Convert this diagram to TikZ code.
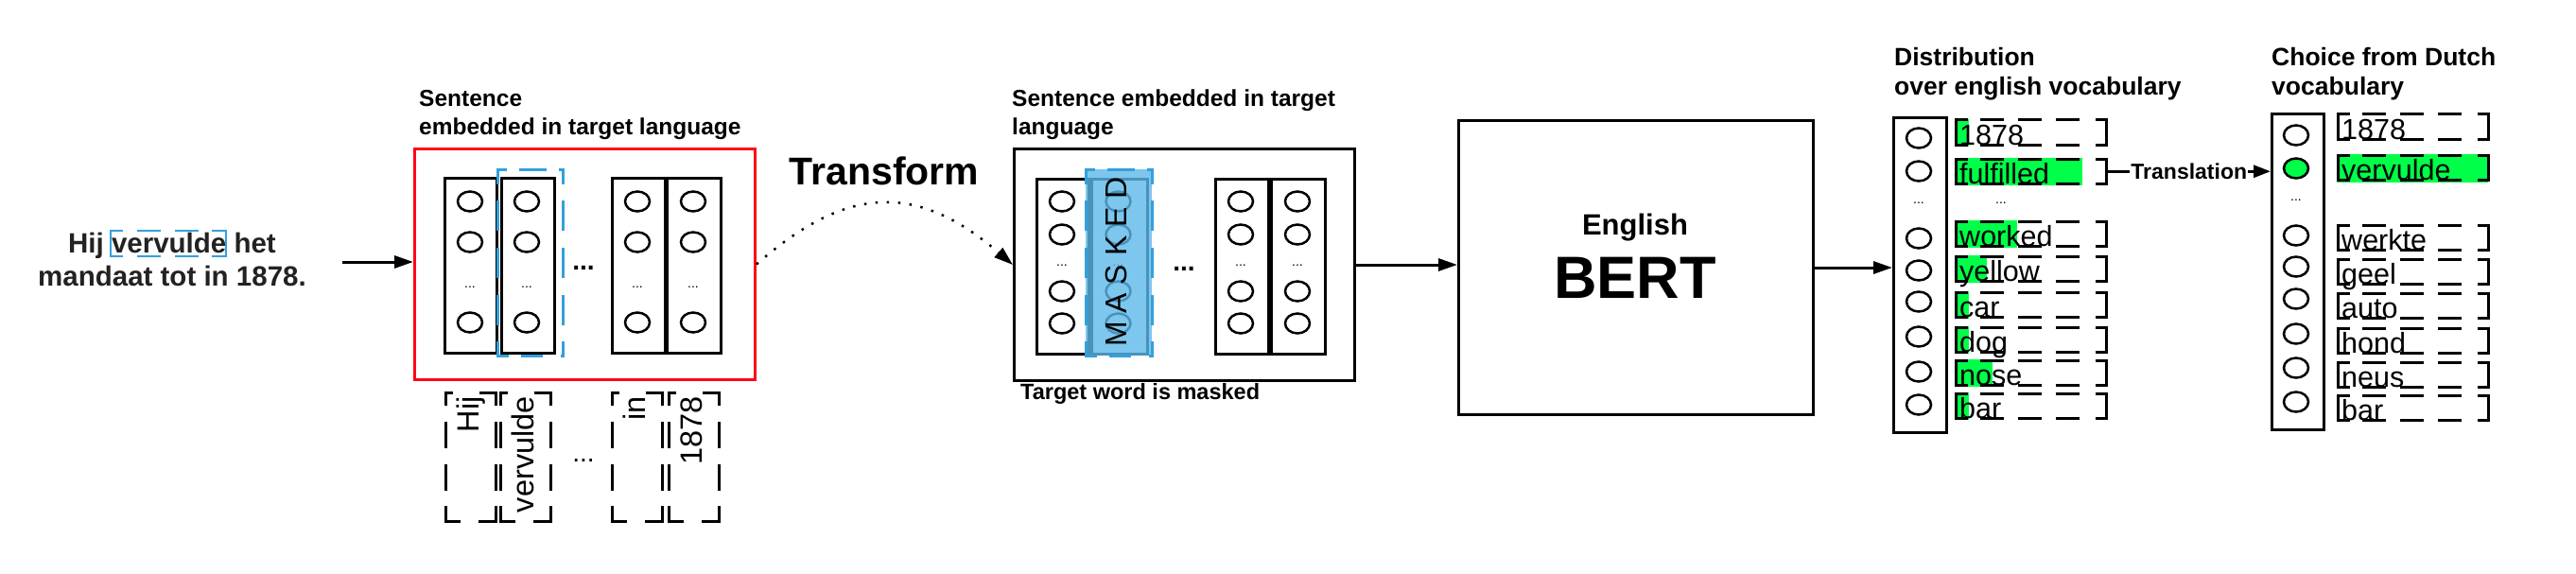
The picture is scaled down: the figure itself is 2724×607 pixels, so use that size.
\documentclass[tikz,border=0pt]{standalone}
\usepackage{fontspec}
\setmainfont{Liberation Sans}
\usetikzlibrary{arrows.meta,shapes.geometric}
\definecolor{mblue}{RGB}{52,160,220}
\definecolor{mfill}{RGB}{92,184,234}
\definecolor{mgreen}{RGB}{0,255,72}
\definecolor{mred}{RGB}{255,0,24}
\definecolor{mtext}{RGB}{34,34,34}
\newcommand\myfs[2]{\fontsize{#1}{#2}\selectfont}
% #1 node, #2 top dashes, #3 bottom dashes, #4 side dashes, #5 colour, #6 width
\newcommand\dashsides[6]{%
  \draw[#5, line width=#6, line cap=rect, dash pattern=#2] (#1.north west) -- (#1.north east);
  \draw[#5, line width=#6, line cap=rect, dash pattern=#3] (#1.south west) -- (#1.south east);
  \draw[#5, line width=#6, line cap=rect, dash pattern=#4] (#1.north west) -- (#1.south west);
  \draw[#5, line width=#6, line cap=rect, dash pattern=#4] (#1.north east) -- (#1.south east);
}
\begin{document}
\begin{tikzpicture}[x=1pt,y=-1pt,
  lbl/.style={inner sep=0pt, font=\bfseries\myfs{24.5}{29.5}, align=left, anchor=base west},
  colbox/.style={draw, line width=3pt, minimum height=185pt, anchor=north west, inner sep=0pt},
  circ/.style={draw, ellipse, line width=2.5pt, minimum width=26pt, minimum height=21pt, inner sep=0pt},
  smalldots/.style={font=\myfs{14}{16}, anchor=base, inner sep=0pt},
  bigdots/.style={font=\bfseries\myfs{28}{30}, anchor=base, inner sep=0pt},
  frame/.style={anchor=north west, inner sep=0pt, outer sep=0pt},
  vword/.style={rotate=90, anchor=base east, inner sep=0pt, font=\myfs{32.5}{36}},
  rword/.style={anchor=base west, inner sep=0pt, font=\myfs{30.5}{34}},
  arr/.style={line width=3pt, -{Triangle[length=20pt,width=13pt]}},
  bigbox/.style={draw, line width=3pt, anchor=north west, inner sep=0pt}
]
\useasboundingbox (0,0) rectangle (2724,607);

% ---------- input sentence ----------
\node[font=\bfseries\myfs{29.5}{35}, align=center, anchor=base, inner sep=0pt, text=mtext] (input) at (182,302) {Hij vervulde het\\mandaat tot in 1878.};
\node[frame, minimum width=122pt, minimum height=27pt] (tw) at (117,244) {};
\dashsides{tw}{on 12pt off 17pt on 23pt off 17pt on 23pt off 16pt on 15pt off 50pt}{on 12pt off 17pt on 23pt off 17pt on 23pt off 16pt on 15pt off 50pt}{on 500pt off 1pt}{mblue}{2.5pt}
\coordinate (inA) at (362,277);

% ---------- embedded sentence (red) ----------
\node[lbl] (lab1) at (443,142.5) {Sentence\\embedded in target language};
\node[bigbox, draw=mred, minimum width=360pt, minimum height=244pt] (red) at (437,156) {};
\draw[arr] (inA) -- (inA -| red.west);
\foreach \n/\x/\w in {1/469/55,2/529/56,3/646/56,4/704/57}
  \node[colbox, minimum width=\w pt] (rc\n) at (\x,187) {};
\foreach \n/\cx in {1/497,2/557,3/674,4/733}{
  \foreach \m/\cy in {1/213,2/256,3/341}
    \node[circ] (rc\n o\m) at (\cx,\cy) {};
  \node[smalldots] (rc\n d) at (\cx,304) {...};
}
\node[frame, minimum width=69pt, minimum height=197pt] (sel) at (526,179) {};
\dashsides{sel}{on 8pt off 16pt on 26pt off 16pt on 5pt off 50pt}{on 10pt off 16pt on 20pt off 22pt on 5pt off 50pt}{on 14pt off 20pt on 29pt off 21pt on 29pt off 21pt on 29pt off 20pt on 16pt off 50pt}{mblue}{3pt}
\node[bigdots] (rdots) at (617,285) {...};

% ---------- token boxes ----------
\foreach \n/\x/\t in {1/470/Hij,2/528/vervulde,3/646/in,4/706/1878}{
  \node[frame, minimum width=53pt, minimum height=136pt] (wb\n) at (\x+1,415) {};
  \dashsides{wb\n}{on 6pt off 31pt on 18pt off 50pt}{on 14pt off 22pt on 18pt off 50pt}{on 12pt off 20pt on 25pt off 20pt on 25pt off 19pt on 15pt off 50pt}{black}{3pt}
  \node[vword] (wt\n) at (\x+36,419) {\t};
}
\node[font=\myfs{28}{30}, anchor=base, inner sep=0pt] (wdots) at (617,488) {...};

% ---------- transform ----------
\node[font=\bfseries\myfs{41}{45}, anchor=base, inner sep=0pt] (tf) at (935,195) {Transform};

% ---------- masked sentence ----------
\node[lbl] (lab2) at (1070,142.5) {Sentence embedded in target\\language};
\node[bigbox, minimum width=360pt, minimum height=245pt] (box2) at (1071,156) {};
\draw[line width=2.5pt, dash pattern=on 2.5pt off 9.5pt, -{Triangle[length=20pt,width=13pt]}]
  (red.east) .. controls (897,194) and (971,194) .. (box2.west);
\foreach \n/\x/\w in {1/1095/55,2/1153/59,3/1284/56,4/1343/57}
  \node[colbox, minimum width=\w pt] (mc\n) at (\x,188) {};
\foreach \n/\cx in {1/1123,2/1182.5,3/1312,4/1372}{
  \foreach \m/\cy in {1/213,2/248,3/308,4/342}
    \node[circ] (mc\n o\m) at (\cx,\cy) {};
  \node[smalldots] (mc\n d) at (\cx,281) {...};
}
\node[frame, fill=mfill, fill opacity=0.8, minimum width=70pt, minimum height=197pt] (mask) at (1148,179) {};
\dashsides{mask}{on 8pt off 16pt on 26pt off 16pt on 5pt off 50pt}{on 10pt off 16pt on 20pt off 22pt on 5pt off 50pt}{on 14pt off 20pt on 29pt off 21pt on 29pt off 21pt on 29pt off 20pt on 16pt off 50pt}{mblue}{3pt}
\node[rotate=90, font=\myfs{32}{36}, inner sep=0pt] (masktxt) at (1180,277) {M A S K E D};
\node[bigdots] (mdots) at (1252,286) {...};
\node[font=\bfseries\myfs{23.5}{28}, anchor=base west, inner sep=0pt] (tlab) at (1079,422) {Target word is masked};

% ---------- BERT ----------
\node[bigbox, minimum width=375pt, minimum height=311pt] (bert) at (1541,126) {};
\node[font=\bfseries\myfs{31}{34}, anchor=base, inner sep=0pt] (eng) at (1729,248) {English};
\node[font=\bfseries\myfs{63}{70}, anchor=base, inner sep=0pt] (bt) at (1729,315) {BERT};
\draw[arr] (box2.east) -- (box2.east -| bert.west);

% ---------- English distribution ----------
\node[lbl, font=\bfseries\myfs{26.5}{31}] (lab3) at (2003,101) {Distribution\\over english vocabulary};
\node[bigbox, minimum width=56pt, minimum height=333pt] (dcol) at (2001,123) {};
\draw[arr] (bert.east) -- (bert.east -| dcol.west);
\foreach \m/\cy in {1/146,2/181,3/252,4/286,5/319,6/356,7/393,8/428}
  \node[circ] (do\m) at (2029,\cy) {};
\node[smalldots] (dd) at (2029,215) {...};
\foreach \n/\y/\g/\t in {1/126/15/1878,2/167/135/fulfilled,3/233/66/worked,4/270/34/yellow,5/308/15/car,6/345/15/dog,7/380/40/nose,8/415/15/bar}{
  \fill[mgreen] (2067,\y) rectangle ++(\g,28.5);
  \node[frame, minimum width=159pt, minimum height=26.5pt] (er\n) at (2068,\y+1) {};
  \dashsides{er\n}{on 11pt off 16pt on 22pt off 18pt on 22pt off 18pt on 22pt off 20pt on 10pt off 50pt}{on 11pt off 16pt on 22pt off 18pt on 22pt off 18pt on 22pt off 20pt on 10pt off 50pt}{on 500pt off 1pt}{black}{3pt}
  \node[rword] (et\n) at (2072,\y+27.5) {\t};
}
\node[smalldots] (edots) at (2116,215) {...};

% ---------- Dutch choice ----------
\node[lbl, font=\bfseries\myfs{26.5}{31}] (lab4) at (2402,101) {Choice from Dutch\\vocabulary};
\node[bigbox, minimum width=55pt, minimum height=334pt] (ncol) at (2401,119) {};
\foreach \m/\cy in {1/143,3/249,4/282,5/316,6/353,7/389,8/425}
  \node[circ] (no\m) at (2428,\cy) {};
\node[circ, fill=mgreen] (no2) at (2428,178) {};
\node[smalldots] (nd) at (2428,212) {...};
\fill[mgreen] (2471,163) rectangle ++(160,29.5);
\foreach \n/\y/\t in {1/120/1878,2/163/vervulde,3/237/werkte,4/273/geel,5/309/auto,6/346/hond,7/382/neus,8/417/bar}{
  \node[frame, minimum width=159pt, minimum height=26.5pt] (nr\n) at (2472,\y+1) {};
  \dashsides{nr\n}{on 11pt off 16pt on 22pt off 18pt on 22pt off 18pt on 22pt off 20pt on 10pt off 50pt}{on 11pt off 16pt on 22pt off 18pt on 22pt off 18pt on 22pt off 20pt on 10pt off 50pt}{on 500pt off 1pt}{black}{3pt}
  \node[rword] (nt\n) at (2476,\y+27.5) {\t};
}
\draw[line width=3pt, -{Triangle[length=18pt,width=13pt]}] ([xshift=1.5pt]er2.east) -- (er2.east -| ncol.west)
  node[midway, fill=white, inner sep=1pt, font=\bfseries\myfs{23}{26}] (trl) {Translation};
\end{tikzpicture}
\end{document}
